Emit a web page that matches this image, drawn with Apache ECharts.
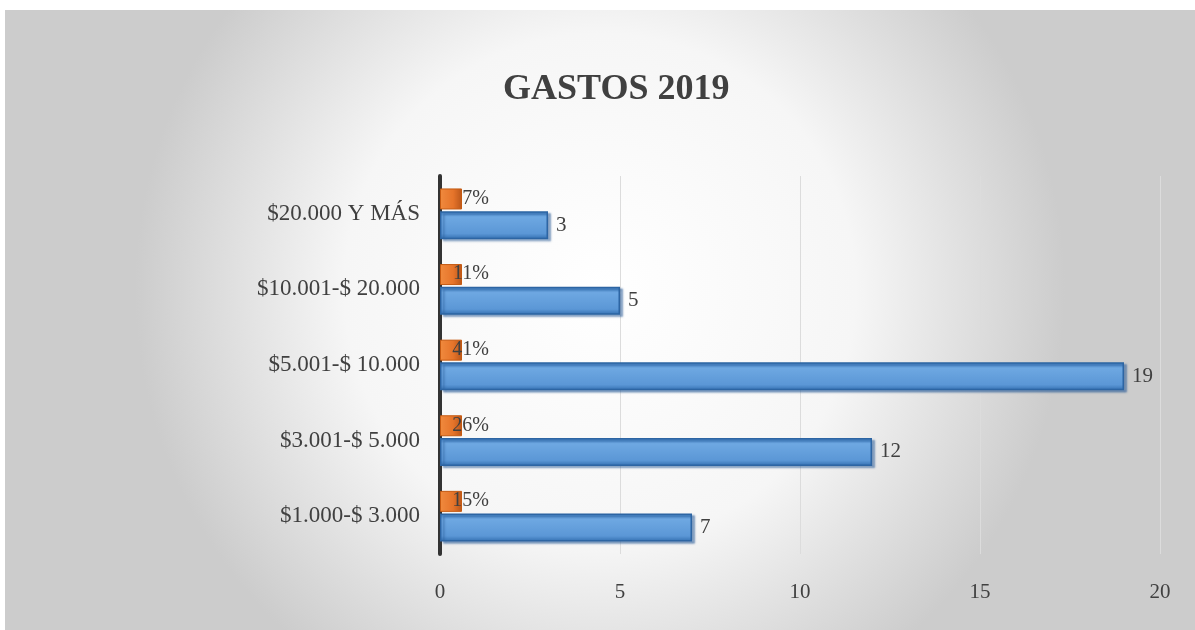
<!DOCTYPE html>
<html><head><meta charset="utf-8">
<script src="https://cdn.jsdelivr.net/npm/echarts@6/dist/echarts.min.js"></script>
<style>
html,body{margin:0;padding:0;background:#fff;width:1195px;height:630px;overflow:hidden;}
#c{position:absolute;left:5px;top:10px;width:1190px;height:620px;}
</style></head><body>
<div id="c"></div>
<script>
const categories = ['$1.000-$ 3.000','$3.001-$ 5.000','$5.001-$ 10.000','$10.001-$ 20.000','$20.000 Y MÁS'];
const counts = [7, 12, 19, 5, 3];
const shares = [0.15, 0.26, 0.41, 0.11, 0.07];
const xTicks = [0, 5, 10, 15, 20];

const chart = echarts.init(document.getElementById('c'));
const serif = '"Liberation Serif","Times New Roman",serif';
chart.setOption({
  backgroundColor: {
    type: 'radial', x: 0.5, y: 0.45, r: 0.75,
    colorStops: [{offset: 0, color: '#ffffff'}, {offset: 0.55, color: '#f6f6f6'}, {offset: 1, color: '#cccccc'}]
  },
  title: {
    text: 'GASTOS 2019', left: 493, top: 57,
    textStyle: {fontFamily: serif, fontWeight: 'bold', fontSize: 36, color: '#404040'}
  },
  grid: {left: 435, right: 35, top: 166, bottom: 76},
  xAxis: {
    type: 'value', min: 0, max: 20, interval: 5,
    axisLine: {show: false}, axisTick: {show: false},
    splitLine: {show: true, lineStyle: {color: '#dcdcdc', width: 1}},
    axisLabel: {fontFamily: serif, fontSize: 21, color: '#404040', margin: 28,
      formatter: v => xTicks.includes(v) ? String(v) : ''}
  },
  yAxis: {
    type: 'category', data: categories,
    axisLine: {show: true, lineStyle: {color: '#333', width: 4}},
    axisTick: {show: false},
    axisLabel: {fontFamily: serif, fontSize: 23, color: '#404040', margin: 20}
  },
  series: [
    {
      type: 'bar', name: 'Porcentaje', data: shares,
      barWidth: 21, barGap: '8%', barCategoryGap: '30%', barMinHeight: 22,
      itemStyle: {
        color: {type: 'linear', x: 0, y: 0, x2: 1, y2: 0, colorStops: [
          {offset: 0, color: '#f08a3e'}, {offset: 0.6, color: '#e6742a'}, {offset: 1, color: '#b9561a'}]},
        borderColor: '#c55a11', borderWidth: 1
      },
      label: {show: true, position: 'insideBottomRight', offset: [32, 4], fontFamily: serif, fontSize: 20, color: '#404040',
        formatter: p => Math.round(p.value * 100) + '%'}
    },
    {
      type: 'bar', name: 'Cantidad', data: counts,
      barWidth: 28,
      itemStyle: {
        color: {type: 'linear', x: 0, y: 0, x2: 0, y2: 1, colorStops: [
          {offset: 0, color: '#3a78bb'}, {offset: 0.2, color: '#6ea8e2'}, {offset: 0.8, color: '#5b97d6'}, {offset: 1, color: '#336fb0'}]},
        borderColor: '#2d65a3', borderWidth: 1.5,
        shadowColor: 'rgba(40,90,150,0.55)', shadowOffsetX: 3, shadowOffsetY: 2, shadowBlur: 2
      },
      label: {show: true, position: 'right', distance: 8, fontFamily: serif, fontSize: 21, color: '#404040'}
    }
  ]
});
</script>
</body></html>
